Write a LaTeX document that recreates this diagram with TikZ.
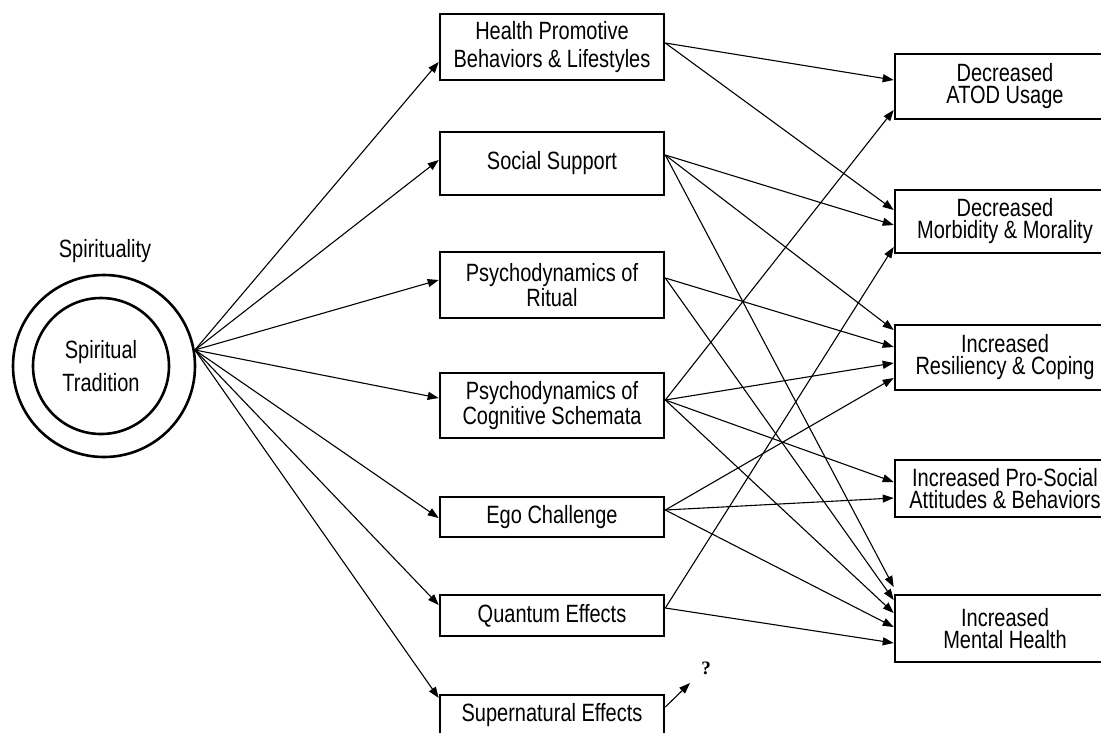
\documentclass[tikz,border=0pt]{standalone}
\usepackage{fontspec}
\setmainfont[FakeStretch=0.8]{Liberation Sans}
\newfontfamily\qfont{Liberation Serif}
\usetikzlibrary{arrows.meta,calc}
\tikzset{
	box/.style={draw, line width=2.6pt, align=center, inner sep=0pt, font=\fontsize{25}{22}\selectfont},
	midbox/.style={box, minimum width=224pt},
	outbox/.style={box, minimum width=220pt},
	ring/.style={circle, draw, line width=2.6pt, inner sep=0pt},
	link/.style={-{Triangle[length=11pt,width=8pt]}, line width=1.1pt}
}
\begin{document}
\begin{tikzpicture}[x=1pt,y=-1pt]
		\useasboundingbox (0,0) rectangle (1101,732);
		\clip (0,0) rectangle (1101,732);
		\node[ring, minimum size=182pt] (outer) at (104,366) {};
		\node[ring, minimum size=136pt, align=center, font=\fontsize{25}{33}\selectfont] (inner) at (101,366) {Spiritual\\Tradition};
		\node[font=\fontsize{25}{22}\selectfont] (sprt) at (105,251) {Spirituality};
		\node[midbox, minimum height=66pt, font=\fontsize{25}{28}\selectfont] (hlth) at (552,47) {Health Promotive\\Behaviors \& Lifestyles};
		\node[midbox, minimum height=63pt] (socl) at (552,163.5) {Social Support};
		\node[midbox, minimum height=66pt] (ritl) at (552,285) {Psychodynamics of\\Ritual};
		\node[midbox, minimum height=65pt] (cogn) at (552,405.5) {Psychodynamics of\\Cognitive Schemata};
		\node[midbox, minimum height=40pt] (egoc) at (552,517) {Ego Challenge};
		\node[midbox, minimum height=41pt] (quan) at (552,615.5) {Quantum Effects};
		\node[midbox, minimum height=40pt] (supn) at (552,715) {Supernatural Effects};
		\node[outbox, minimum height=65pt] (atod) at (1005,86.5) {Decreased\\ATOD Usage};
		\node[outbox, minimum height=63pt] (morb) at (1005,221.5) {Decreased\\Morbidity \& Morality};
		\node[outbox, minimum height=65pt] (resl) at (1005,357.5) {Increased\\Resiliency \& Coping};
		\node[outbox, minimum height=57pt] (pros) at (1005,488.5) {Increased Pro-Social\\Attitudes \& Behaviors};
		\node[outbox, minimum height=67pt] (mhlt) at (1005,628.5) {Increased\\Mental Health};
		\node[font=\qfont\bfseries\fontsize{19}{19}\selectfont] (qmark) at (706,668) {?};
		\coordinate (qtip) at (690,683);
		\foreach \b/\d in {hlth/15, socl/-3.5, ritl/-5, cogn/-7.5, egoc/1, quan/-10.5, supn/-17}
			\draw[link] (outer.10) -- ($(\b.west)+(0,\d)$);
		\foreach \a/\da/\b/\db in {hlth/-4/atod/-6.5, hlth/-4/morb/-11.5,
				socl/-8.5/morb/3.5, socl/-8.5/resl/-27.5, socl/-8.5/mhlt/-41.5,
				ritl/-7/resl/-10.5, ritl/-7/mhlt/-28.5,
				cogn/-5.5/atod/23.5, cogn/-5.5/resl/5.5, cogn/-5.5/pros/-6.5, cogn/-5.5/mhlt/-15.5,
				egoc/-7/resl/20.5, egoc/-7/pros/9.5, egoc/-7/mhlt/-1.5,
				quan/-7.5/morb/25.5, quan/-7.5/mhlt/14.5}
			\draw[link] ($(\a.east)+(0,\da)$) -- ($(\b.west)+(0,\db)$);
		\draw[link] ($(supn.east)+(0,-8)$) -- (qtip);
	\end{tikzpicture}
\end{document}
